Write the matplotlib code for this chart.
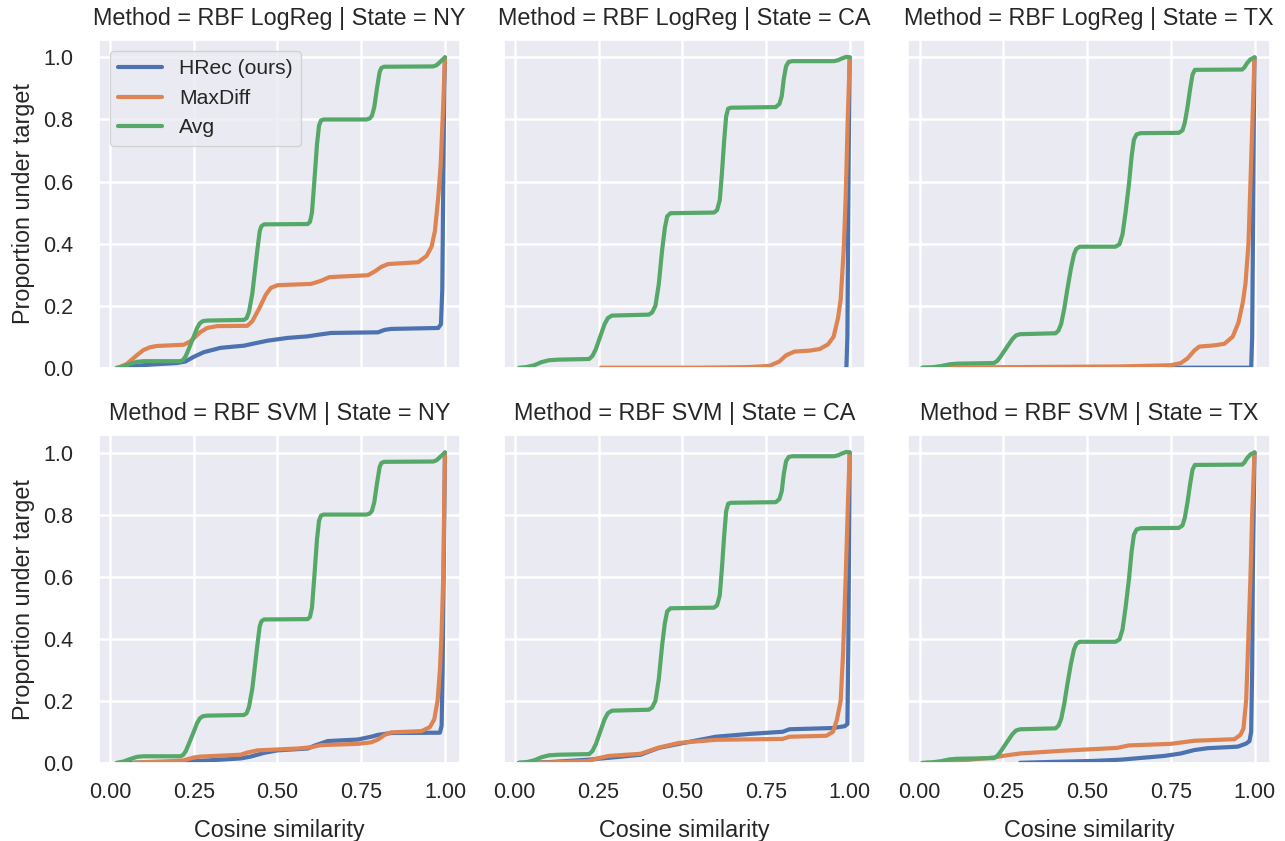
import matplotlib
matplotlib.use("Agg")
import matplotlib.pyplot as plt
import seaborn as sns

# curves as (cosine similarity, proportion under target)
avg_ny = [(0.02, 0.0), (0.04, 0.004), (0.06, 0.012), (0.08, 0.019), (0.10, 0.021),
          (0.21, 0.021), (0.218, 0.025), (0.226, 0.037), (0.235, 0.06), (0.25, 0.10),
          (0.26, 0.128), (0.268, 0.143), (0.277, 0.15), (0.29, 0.152),
          (0.40, 0.154), (0.408, 0.16), (0.415, 0.18), (0.425, 0.24), (0.44, 0.38),
          (0.447, 0.44), (0.452, 0.456), (0.46, 0.462),
          (0.59, 0.463), (0.597, 0.47), (0.603, 0.50), (0.61, 0.60), (0.618, 0.72),
          (0.624, 0.78), (0.63, 0.797), (0.638, 0.80),
          (0.765, 0.80), (0.775, 0.803), (0.782, 0.812), (0.789, 0.84), (0.797, 0.90),
          (0.805, 0.953), (0.81, 0.966), (0.818, 0.97),
          (0.965, 0.971), (0.975, 0.975), (0.985, 0.985), (0.993, 0.993), (1.0, 1.0)]
avg_ca = [(0.013, 0.0), (0.035, 0.002), (0.058, 0.008), (0.08, 0.018), (0.102, 0.024),
          (0.13, 0.026), (0.222, 0.028), (0.232, 0.038), (0.242, 0.06), (0.255, 0.10),
          (0.268, 0.14), (0.278, 0.16), (0.29, 0.168), (0.40, 0.171), (0.41, 0.178),
          (0.42, 0.20), (0.43, 0.27), (0.44, 0.38), (0.448, 0.45), (0.455, 0.488),
          (0.465, 0.498), (0.595, 0.50), (0.604, 0.508), (0.612, 0.54), (0.618, 0.62),
          (0.625, 0.73), (0.631, 0.81), (0.637, 0.835), (0.645, 0.838), (0.779, 0.84),
          (0.79, 0.85), (0.797, 0.875), (0.803, 0.93), (0.81, 0.972), (0.818, 0.986),
          (0.83, 0.988), (0.953, 0.988), (0.965, 0.991), (0.975, 0.996), (0.99, 1.002),
          (1.0, 1.0)]
avg_tx = [(0.008, 0.0), (0.035, 0.001), (0.063, 0.005), (0.09, 0.011), (0.112, 0.013),
          (0.222, 0.015), (0.232, 0.022), (0.242, 0.036), (0.26, 0.065), (0.277, 0.092),
          (0.288, 0.104), (0.30, 0.108), (0.406, 0.111), (0.415, 0.12), (0.423, 0.142),
          (0.432, 0.19), (0.441, 0.251), (0.452, 0.32), (0.461, 0.365), (0.468, 0.383),
          (0.478, 0.39), (0.585, 0.39), (0.597, 0.398), (0.606, 0.43), (0.615, 0.50),
          (0.625, 0.59), (0.633, 0.68), (0.64, 0.735), (0.648, 0.752), (0.66, 0.756),
          (0.774, 0.757), (0.785, 0.765), (0.792, 0.79), (0.80, 0.84), (0.808, 0.90),
          (0.815, 0.945), (0.822, 0.96), (0.963, 0.961), (0.97, 0.968), (0.978, 0.982),
          (0.988, 0.994), (1.0, 1.0)]

hrec_logreg_ny = [(0.03, 0.0), (0.07, 0.005), (0.12, 0.01), (0.20, 0.015), (0.225, 0.02),
                  (0.25, 0.035), (0.28, 0.05), (0.33, 0.064), (0.40, 0.071), (0.43, 0.078),
                  (0.47, 0.087), (0.53, 0.096), (0.59, 0.101), (0.62, 0.106), (0.66, 0.112),
                  (0.80, 0.114), (0.82, 0.122), (0.84, 0.125), (0.98, 0.128), (0.988, 0.14),
                  (0.992, 0.25), (0.995, 0.6), (0.998, 0.9), (1.0, 1.0)]
maxdiff_logreg_ny = [(0.025, 0.0), (0.05, 0.012), (0.08, 0.04), (0.10, 0.057), (0.12, 0.066),
                     (0.14, 0.07), (0.22, 0.074), (0.24, 0.085), (0.27, 0.115), (0.29, 0.128),
                     (0.32, 0.134), (0.41, 0.135), (0.425, 0.15), (0.445, 0.19), (0.465, 0.235),
                     (0.48, 0.257), (0.50, 0.266), (0.60, 0.27), (0.63, 0.28), (0.655, 0.292),
                     (0.77, 0.298), (0.79, 0.31), (0.81, 0.325), (0.83, 0.334), (0.92, 0.34),
                     (0.945, 0.36), (0.96, 0.39), (0.97, 0.44), (0.98, 0.55), (0.987, 0.65),
                     (0.995, 0.85), (1.0, 1.0)]
hrec_logreg_ca = [(0.99, 0.0), (0.993, 0.1), (0.995, 0.4), (0.997, 0.7), (1.0, 1.0)]
maxdiff_logreg_ca = [(0.257, 0.0), (0.55, 0.0), (0.70, 0.002), (0.76, 0.006), (0.79, 0.02),
                     (0.81, 0.04), (0.835, 0.052), (0.88, 0.055), (0.91, 0.06), (0.935, 0.075),
                     (0.952, 0.10), (0.965, 0.16), (0.973, 0.22), (0.982, 0.38), (0.988, 0.55),
                     (0.994, 0.8), (1.0, 1.0)]
hrec_logreg_tx = [(0.74, 0.0), (0.99, 0.0), (0.993, 0.1), (0.996, 0.5), (0.998, 0.8), (1.0, 1.0)]
maxdiff_logreg_tx = [(0.01, 0.0), (0.3, 0.002), (0.6, 0.004), (0.75, 0.008), (0.78, 0.015),
                     (0.80, 0.03), (0.82, 0.055), (0.835, 0.068), (0.88, 0.072), (0.91, 0.077),
                     (0.935, 0.10), (0.952, 0.145), (0.965, 0.21), (0.973, 0.27), (0.982, 0.4),
                     (0.988, 0.6), (0.994, 0.8), (1.0, 1.0)]

hrec_svm_ny = [(0.06, 0.0), (0.22, 0.003), (0.39, 0.014), (0.42, 0.02), (0.46, 0.032),
               (0.50, 0.04), (0.59, 0.046), (0.61, 0.055), (0.65, 0.07), (0.74, 0.075),
               (0.78, 0.084), (0.80, 0.09), (0.84, 0.096), (0.985, 0.097), (0.99, 0.12),
               (0.993, 0.3), (0.996, 0.6), (1.0, 1.0)]
maxdiff_svm_ny = [(0.07, 0.0), (0.10, 0.002), (0.20, 0.006), (0.22, 0.008), (0.25, 0.017),
                  (0.27, 0.02), (0.39, 0.026), (0.41, 0.033), (0.44, 0.04), (0.56, 0.046),
                  (0.60, 0.05), (0.63, 0.057), (0.74, 0.061), (0.78, 0.066), (0.80, 0.075),
                  (0.82, 0.09), (0.84, 0.098), (0.93, 0.102), (0.955, 0.115), (0.968, 0.14),
                  (0.978, 0.20), (0.985, 0.3), (0.99, 0.42), (0.995, 0.6), (0.998, 0.85),
                  (1.0, 1.0)]
hrec_svm_ca = [(0.012, 0.0), (0.10, 0.002), (0.22, 0.01), (0.30, 0.018), (0.376, 0.026),
               (0.40, 0.036), (0.43, 0.048), (0.49, 0.061), (0.60, 0.084), (0.70, 0.093),
               (0.80, 0.10), (0.82, 0.108), (0.95, 0.112), (0.985, 0.118), (0.993, 0.125),
               (0.996, 0.4), (0.998, 0.7), (1.0, 1.0)]
maxdiff_svm_ca = [(0.07, 0.0), (0.15, 0.003), (0.22, 0.006), (0.25, 0.015), (0.28, 0.022),
                  (0.375, 0.029), (0.40, 0.038), (0.43, 0.049), (0.49, 0.064), (0.60, 0.074),
                  (0.80, 0.077), (0.82, 0.084), (0.93, 0.087), (0.95, 0.10), (0.962, 0.14),
                  (0.973, 0.2), (0.98, 0.35), (0.988, 0.6), (0.995, 0.85), (1.0, 1.0)]
hrec_svm_tx = [(0.30, 0.0), (0.40, 0.003), (0.52, 0.006), (0.60, 0.01), (0.73, 0.022),
               (0.78, 0.03), (0.82, 0.041), (0.86, 0.047), (0.95, 0.052), (0.975, 0.062),
               (0.985, 0.07), (0.99, 0.1), (0.993, 0.3), (0.995, 0.6), (0.998, 0.85), (1.0, 1.0)]
maxdiff_svm_tx = [(0.02, 0.0), (0.08, 0.003), (0.22, 0.017), (0.26, 0.024), (0.30, 0.03),
                  (0.43, 0.039), (0.59, 0.048), (0.625, 0.056), (0.75, 0.061), (0.82, 0.071),
                  (0.94, 0.076), (0.958, 0.09), (0.967, 0.11), (0.975, 0.2), (0.98, 0.35),
                  (0.988, 0.6), (0.993, 0.8), (1.0, 1.0)]

methods = ["RBF LogReg", "RBF SVM"]
states = ["NY", "CA", "TX"]
series_names = ["HRec (ours)", "MaxDiff", "Avg"]

panels = {
    ("RBF LogReg", "NY"): [hrec_logreg_ny, maxdiff_logreg_ny, avg_ny],
    ("RBF LogReg", "CA"): [hrec_logreg_ca, maxdiff_logreg_ca, avg_ca],
    ("RBF LogReg", "TX"): [hrec_logreg_tx, maxdiff_logreg_tx, avg_tx],
    ("RBF SVM", "NY"): [hrec_svm_ny, maxdiff_svm_ny, avg_ny],
    ("RBF SVM", "CA"): [hrec_svm_ca, maxdiff_svm_ca, avg_ca],
    ("RBF SVM", "TX"): [hrec_svm_tx, maxdiff_svm_tx, avg_tx],
}

sns.set_theme(context="notebook", style="darkgrid", font_scale=1.2,
              rc={"grid.linewidth": 1.8})
plt.rcParams['font.family'] = ['Liberation Sans', 'DejaVu Sans']
colors = sns.color_palette("deep")

fig, axes = plt.subplots(2, 3, figsize=(12.85, 8.41), dpi=100, sharex=True, sharey=True)
fig.subplots_adjust(left=0.077, right=0.988, top=0.952, bottom=0.093,
                    wspace=0.121, hspace=0.207)

for i, m in enumerate(methods):
    for j, s in enumerate(states):
        ax = axes[i, j]
        for k, curve in enumerate(panels[(m, s)]):
            xs = [p[0] for p in curve]
            ys = [p[1] for p in curve]
            ax.plot(xs, ys, color=colors[k], lw=3.0, label=series_names[k],
                    solid_joinstyle="round")
        ax.set_title(f"Method = {m} | State = {s}", fontsize=16.8, pad=11)
        ax.set_xlim(-0.033, 1.045)
        ax.set_ylim(0, 1.055)
        ax.set_xticks([0, 0.25, 0.5, 0.75, 1.0])
        ax.set_xticklabels(["0.00", "0.25", "0.50", "0.75", "1.00"])
        ax.set_yticks([0, 0.2, 0.4, 0.6, 0.8, 1.0])
        ax.tick_params(axis="x", length=0, pad=14, labelsize=15.5)
        ax.tick_params(axis="y", length=0, pad=18.5, labelsize=15.5)
        if j == 0:
            ax.set_ylabel("Proportion under target", fontsize=16.8, labelpad=6)
        if i == 1:
            ax.set_xlabel("Cosine similarity", fontsize=16.8, labelpad=11)

axes[0, 0].legend(loc="upper left", handlelength=2.1, fontsize=15.2)

fig.savefig("out.png", dpi=100)
